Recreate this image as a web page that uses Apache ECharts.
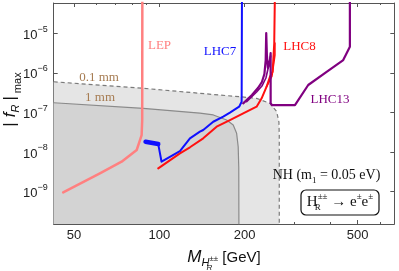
<!DOCTYPE html>
<html><head><meta charset="utf-8">
<script src="https://cdn.jsdelivr.net/npm/echarts@6/dist/echarts.min.js"></script>
<style>html,body{margin:0;padding:0;background:#fff}#c{width:399px;height:271px}</style>
</head><body><div id="c"></div>
<script>
// ---- axis ranges and ticks ----
const xRange = [42.4, 674];
const yRange = [1.51e-10, 5.8e-5];
const xTickLabels = [50, 100, 200, 500];
const xMinorTicks = [60, 70, 80, 90, 300, 400, 600];
const yTickLabels = [1e-9, 1e-8, 1e-7, 1e-6, 1e-5];

// ---- decay-length contours ----
const mm01M = [42.4, 87.7, 139, 192.4, 220.3, 245.5, 259.2, 264.1, 264.8, 264.8];
const mm01F = [5.94e-7, 4.06e-7, 3.03e-7, 2.48e-7, 2.26e-7, 1.69e-7, 1.05e-7, 5.7e-8, 2.67e-8, 1.51e-10];
const mm1M = [42.4, 87.7, 139, 155, 172.7, 182.2, 187.3, 189.7, 190.6, 190.8];
const mm1F = [1.75e-7, 1.26e-7, 9.6e-8, 8.6e-8, 6.4e-8, 4.8e-8, 2.95e-8, 1.35e-8, 4e-9, 1.51e-10];

// ---- limits ----
const lepM = [45.8, 61.7, 73.6, 83.2, 86.6, 87.0, 87.1];
const lepF = [9.5e-10, 2.88e-9, 5.66e-9, 1.12e-8, 2.67e-8, 6.4e-8, 1e-4];
const lhc7BandM = [89.4, 99.1];
const lhc7BandF = [1.81e-8, 1.58e-8];
const lhc7M = [89.4, 99.1, 101.8, 118.2, 128.2, 139, 142.8, 154.9, 168, 177.4, 191.2, 195.1, 195.6];
const lhc7F = [1.81e-8, 1.58e-8, 5.66e-9, 1.05e-8, 2.21e-8, 3.25e-8, 3.58e-8, 5.79e-8, 7.76e-8, 9.8e-8, 1.39e-7, 1.86e-7, 1e-4];
const lhc8M = [99.1, 118.2, 128.2, 142.8, 159.2, 177.4, 197.6, 220.3, 229.5, 238.9, 245.5, 250.9, 254.2, 255.6];
const lhc8F = [3.85e-9, 9.2e-9, 1.31e-8, 2.21e-8, 4.34e-8, 6.4e-8, 9.46e-8, 1.39e-7, 2.26e-7, 4.45e-7, 7.96e-7, 1.06e-6, 5.56e-6, 1e-4];
const lhc8BranchM = [238.9, 249.5, 255.6, 255.6];
const lhc8BranchF = [4.45e-7, 8.28e-7, 2.81e-6, 5.65e-6];
const lhc13M = [197.6, 212.1, 222.7, 230, 234.7, 237.2, 238.2, 239.5, 241.5, 245.5, 246.9, 246.9, 249.5, 300.8, 335, 389, 445.2, 469.9, 469.9];
const lhc13F = [1.69e-7, 2.74e-7, 4.12e-7, 5.85e-7, 9.3e-7, 2.1e-6, 1.01e-5, 2.81e-6, 1.32e-6, 2.1e-6, 3.16e-6, 1.72e-7, 1.53e-7, 1.53e-7, 4.91e-7, 1.06e-6, 2.1e-6, 4.56e-6, 1e-4];
const lhc13BranchM = [203.2, 220.3, 230, 237.6, 243.4, 246.9];
const lhc13BranchF = [1.86e-7, 3.27e-7, 4.63e-7, 7.38e-7, 1.57e-6, 2.65e-6];

const zip = (a, b) => a.map((v, i) => [v, b[i]]);
const SANS = '"Liberation Sans", Arial, sans-serif';
const SERIF = '"Liberation Serif", "Times New Roman", serif';
const FRAME = '#555';

function lineSeries(name, M, F, color, width, z, extra) {
  return Object.assign({
    name, type: 'line', data: zip(M, F), symbol: 'none', silent: true,
    xAxisIndex: 0, yAxisIndex: 0, z,
    lineStyle: { color, width, join: 'round', cap: 'round' }
  }, extra || {});
}

const chart = echarts.init(document.getElementById('c'), null, { renderer: 'canvas' });

const baseX = {
  type: 'log', min: xRange[0], max: xRange[1], splitLine: { show: false },
  axisLine: { show: true, lineStyle: { color: FRAME, width: 1 } }
};
const baseY = {
  type: 'log', min: yRange[0], max: yRange[1], splitLine: { show: false },
  axisLine: { show: true, lineStyle: { color: FRAME, width: 1 } }
};

chart.setOption({
  animation: false,
  backgroundColor: '#fff',
  grid: { left: 53.7, right: 4.7, top: 3, bottom: 47, containLabel: false, outerBoundsMode: 'none' },
  xAxis: [
    Object.assign({}, baseX, {
      position: 'bottom',
      axisTick: { show: true, inside: true, length: 4, customValues: xTickLabels, lineStyle: { color: FRAME } },
      axisLabel: {
        customValues: xTickLabels, margin: 5, color: '#222', fontSize: 13, fontFamily: SANS,
        formatter: v => String(Math.round(v))
      },
      name: '{m|M}{h|H}{r|R}{pm|±±}{g| [GeV]}',
      nameLocation: 'middle', nameGap: 23, nameMoveOverlap: false,
      nameTextStyle: {
        color: '#111', fontFamily: SANS,
        rich: {
          m: { fontSize: 17, fontStyle: 'italic', fontFamily: SANS, verticalAlign: 'top', padding: [2, 0, 0, 0], lineHeight: 28 },
          h: { fontSize: 11, fontStyle: 'italic', fontFamily: SANS, verticalAlign: 'top', padding: [10, 0, 0, 0] },
          r: { fontSize: 8, fontStyle: 'italic', fontFamily: SANS, verticalAlign: 'top', padding: [17, 0, 0, 0], width: 0 },
          pm: { fontSize: 8, fontFamily: SANS, verticalAlign: 'top', padding: [8, 0, 0, 0] },
          g: { fontSize: 15, fontFamily: SANS, verticalAlign: 'top', padding: [3, 0, 0, 0] }
        }
      }
    }),
    Object.assign({}, baseX, {
      position: 'bottom', axisLine: { show: false },
      axisTick: { show: true, inside: true, length: 2, customValues: xMinorTicks, lineStyle: { color: FRAME } },
      axisLabel: { show: false }
    }),
    Object.assign({}, baseX, {
      position: 'top',
      axisTick: { show: true, inside: true, length: 4, customValues: xTickLabels, lineStyle: { color: FRAME } },
      axisLabel: { show: false }
    }),
    Object.assign({}, baseX, {
      position: 'top', axisLine: { show: false },
      axisTick: { show: true, inside: true, length: 2, customValues: xMinorTicks, lineStyle: { color: FRAME } },
      axisLabel: { show: false }
    })
  ],
  yAxis: [
    Object.assign({}, baseY, {
      position: 'left',
      axisTick: { show: true, inside: true, length: 4, customValues: yTickLabels, lineStyle: { color: FRAME } },
      axisLabel: {
        customValues: yTickLabels, margin: 6, color: '#222', fontFamily: SANS,
        formatter: v => '{b|10}{s|\u2212' + Math.round(-Math.log10(v)) + '}',
        rich: {
          b: { fontSize: 13, fontFamily: SANS, color: '#222', verticalAlign: 'top', padding: [4, 0, 0, 0] },
          s: { fontSize: 9, fontFamily: SANS, color: '#222', verticalAlign: 'top' }
        }
      },
      name: '{n||}{f|f}{r|R}{n||}{x|max}',
      nameLocation: 'middle', nameRotate: 90, nameGap: 28, nameMoveOverlap: false,
      nameTextStyle: {
        color: '#111', fontFamily: SANS, padding: [0, 0, 0, 26],
        rich: {
          n: { fontSize: 17, fontFamily: SANS, verticalAlign: 'top', padding: [2, 2, 0, 2], lineHeight: 26 },
          f: { fontSize: 17, fontStyle: 'italic', fontFamily: SANS, verticalAlign: 'top', padding: [2, 0, 0, 3] },
          r: { fontSize: 11, fontStyle: 'italic', fontFamily: SANS, verticalAlign: 'top', padding: [11, 2, 0, 0] },
          x: { fontSize: 11, fontFamily: SANS, verticalAlign: 'top', padding: [13, 0, 0, 1] }
        }
      }
    }),
    Object.assign({}, baseY, {
      position: 'right',
      axisTick: { show: true, inside: true, length: 4, customValues: yTickLabels, lineStyle: { color: FRAME } },
      axisLabel: { show: false }
    })
  ],
  series: [
    lineSeries('0.1 mm', mm01M, mm01F, '#7a7a7a', 1.2, 1, {
      lineStyle: { color: '#7a7a7a', width: 1.2, type: [4, 3] },
      areaStyle: { color: '#e5e5e5', opacity: 1, origin: 'start' }
    }),
    lineSeries('1 mm', mm1M, mm1F, '#8a8a8a', 1.2, 2, {
      areaStyle: { color: '#d3d3d3', opacity: 1, origin: 'start' }
    }),
    lineSeries('LEP', lepM, lepF, '#ff8080', 2.5, 5),
    lineSeries('LHC7 band', lhc7BandM, lhc7BandF, '#1010ff', 4.5, 6),
    lineSeries('LHC7', lhc7M, lhc7F, '#1010ff', 2, 6),
    lineSeries('LHC8 branch', lhc8BranchM, lhc8BranchF, '#ff1010', 1.6, 7),
    lineSeries('LHC8', lhc8M, lhc8F, '#ff1010', 2, 7),
    lineSeries('LHC13 branch', lhc13BranchM, lhc13BranchF, '#800080', 1.6, 8),
    lineSeries('LHC13', lhc13M, lhc13F, '#800080', 2.2, 8)
  ],
  graphic: [
    { type: 'text', x: 159.5, y: 46, z: 20, style: { text: 'LEP', fill: '#ff8080', font: '13px ' + SERIF, align: 'center', verticalAlign: 'middle' } },
    { type: 'text', x: 220, y: 52, z: 20, style: { text: 'LHC7', fill: '#1010ff', font: '13px ' + SERIF, align: 'center', verticalAlign: 'middle' } },
    { type: 'text', x: 299.5, y: 47, z: 20, style: { text: 'LHC8', fill: '#ff1010', font: '13px ' + SERIF, align: 'center', verticalAlign: 'middle' } },
    { type: 'text', x: 330, y: 100, z: 20, style: { text: 'LHC13', fill: '#800080', font: '13px ' + SERIF, align: 'center', verticalAlign: 'middle' } },
    { type: 'text', x: 99, y: 78, z: 20, style: { text: '0.1 mm', fill: '#a67c52', font: '13px ' + SERIF, align: 'center', verticalAlign: 'middle' } },
    { type: 'text', x: 100, y: 98, z: 20, style: { text: '1 mm', fill: '#a67c52', font: '13px ' + SERIF, align: 'center', verticalAlign: 'middle' } },
    { type: 'text', x: 326.5, y: 176, z: 20, style: {
        text: '{n|NH (m}{s|1}{n| = 0.05 eV)}', align: 'center', verticalAlign: 'middle',
        rich: {
          n: { fontSize: 14, fontFamily: SERIF, fill: '#111', verticalAlign: 'top', lineHeight: 20, padding: [2, 0, 0, 0] },
          s: { fontSize: 9, fontFamily: SERIF, fill: '#111', verticalAlign: 'top', padding: [10, 0, 0, 0] }
        } } },
    { type: 'rect', z: 19, shape: { x: 301, y: 190, width: 78, height: 25, r: 5 }, style: { fill: '#fff', stroke: '#111', lineWidth: 1.2 } },
    { type: 'text', x: 340, y: 202.5, z: 20, style: {
        text: '{n|H}{r|R}{p|±±}{n| \u2192 e}{p|±}{n|e}{p|±}', align: 'center', verticalAlign: 'middle',
        rich: {
          n: { fontSize: 15, fontFamily: SERIF, fill: '#111', verticalAlign: 'top', lineHeight: 22, padding: [3, 0, 0, 0] },
          r: { fontSize: 9, fontFamily: SERIF, fill: '#111', verticalAlign: 'top', padding: [12, 0, 0, 0], width: 0 },
          p: { fontSize: 9, fontFamily: SERIF, fill: '#111', verticalAlign: 'top', padding: [1, 0, 0, 0] }
        } } }
  ]
});
</script>
</body></html>
